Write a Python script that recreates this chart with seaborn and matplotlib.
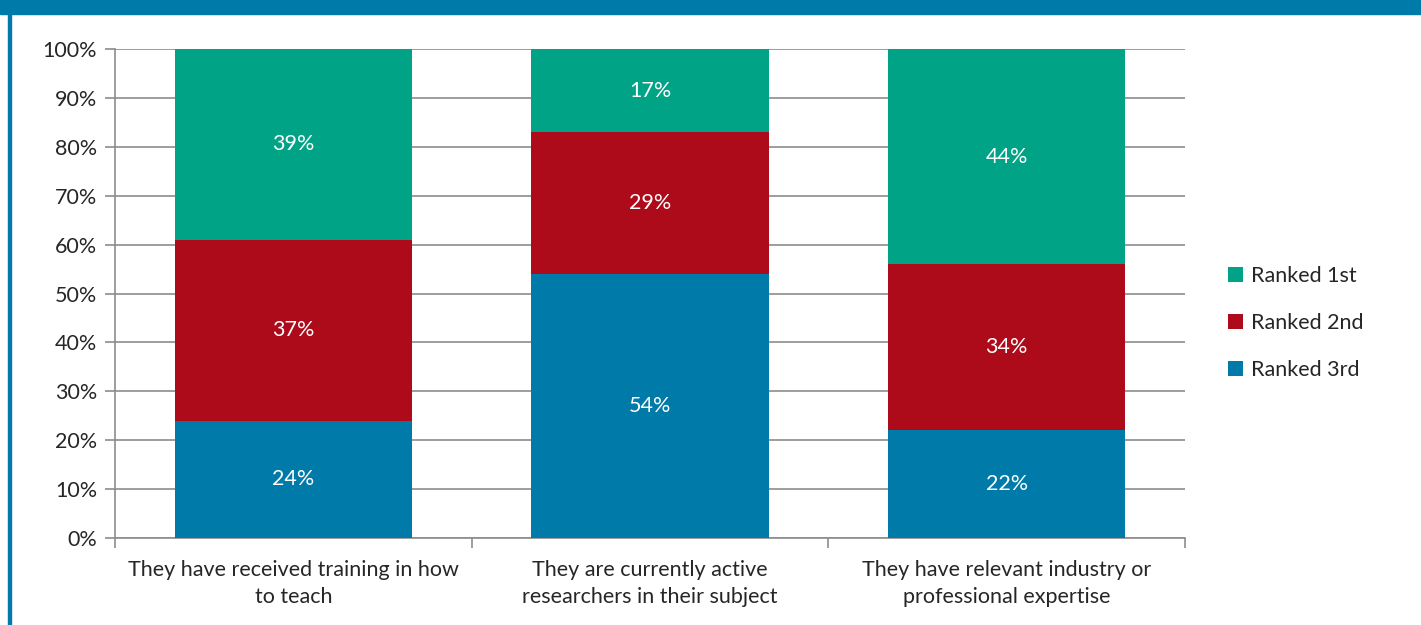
import matplotlib
matplotlib.use("Agg")
import matplotlib.pyplot as plt
import seaborn as sns
import pandas as pd
from matplotlib.patches import Rectangle
from matplotlib.ticker import FixedLocator, PercentFormatter

categories = [
    "They have received training in how\nto teach",
    "They are currently active\nresearchers in their subject",
    "They have relevant industry or\nprofessional expertise",
]
ranked_1st = [39, 17, 44]
ranked_2nd = [37, 29, 34]
ranked_3rd = [24, 54, 22]
series_names = ["Ranked 1st", "Ranked 2nd", "Ranked 3rd"]
y_ticks = [0, 10, 20, 30, 40, 50, 60, 70, 80, 90, 100]

GREEN = "#00A386"
RED = "#AD0A1A"
BLUE = "#007AA8"
GRID = "#8C8C8C"
FS = 15.5

sns.set_theme(style="white")
plt.rcParams["font.family"] = ["Lato", "DejaVu Sans"]

df = pd.DataFrame({
    "category": categories,
    "r1": ranked_1st,
    "r2": ranked_2nd,
    "r3": ranked_3rd,
})
df["top"] = df["r1"] + df["r2"] + df["r3"]
df["mid"] = df["r2"] + df["r3"]
df["low"] = df["r3"]

fig = plt.figure(figsize=(14.21, 6.25), dpi=100)
ax = fig.add_axes([115 / 1421, 87 / 625, (1185 - 115) / 1421, (538 - 49) / 625])

# stacked bars drawn as overlapping cumulative totals
for col, color, name in [("top", GREEN, series_names[0]),
                         ("mid", RED, series_names[1]),
                         ("low", BLUE, series_names[2])]:
    sns.barplot(data=df, x="category", y=col, color=color, width=0.665,
                saturation=1, ax=ax, label=name, zorder=3, linewidth=0,
                edgecolor="none")

# segment value labels
for i in range(len(categories)):
    segs = [(0, ranked_3rd[i]),
            (ranked_3rd[i], ranked_3rd[i] + ranked_2nd[i]),
            (ranked_3rd[i] + ranked_2nd[i], ranked_3rd[i] + ranked_2nd[i] + ranked_1st[i])]
    vals = [ranked_3rd[i], ranked_2nd[i], ranked_1st[i]]
    for (b, t), v in zip(segs, vals):
        ax.text(i, (b + t) / 2, f"{v}%", color="white", ha="center",
                va="center", fontsize=FS, zorder=4)

ax.set_ylim(0, 100)
ax.set_xlim(-0.5, 2.5)
ax.yaxis.set_major_locator(FixedLocator(y_ticks))
ax.yaxis.set_major_formatter(PercentFormatter(decimals=0))
ax.grid(axis="y", color=GRID, linewidth=1.2, zorder=0)
ax.set_axisbelow(True)
ax.set_xlabel("")
ax.set_ylabel("")

for s in ["top", "right"]:
    ax.spines[s].set_visible(False)
for s in ["left", "bottom"]:
    ax.spines[s].set_color(GRID)
    ax.spines[s].set_linewidth(1.2)

ax.tick_params(axis="y", which="major", length=7, color=GRID, width=1.2,
               labelsize=FS, pad=6, left=True)
ax.tick_params(axis="x", which="major", length=0, labelsize=FS, pad=16)
ax.xaxis.set_minor_locator(FixedLocator([-0.5, 0.5, 1.5, 2.5]))
ax.tick_params(axis="x", which="minor", length=7, color=GRID, width=1.2,
               bottom=True)
for lbl in ax.get_xticklabels():
    lbl.set_linespacing(1.45)

ax.legend(loc="center left", bbox_to_anchor=(1.022, 0.44), frameon=False,
          fontsize=FS, handlelength=0.7, handleheight=0.7,
          handletextpad=0.35, labelspacing=1.25)

# frame around the figure
fig.patches.append(Rectangle((0, 611 / 625), 1, 14 / 625, transform=fig.transFigure,
                             color=BLUE, zorder=10))
fig.patches.append(Rectangle((8 / 1421, 0), 3 / 1421, 1, transform=fig.transFigure,
                             color=BLUE, zorder=10))

fig.savefig("out.png", dpi=100)
